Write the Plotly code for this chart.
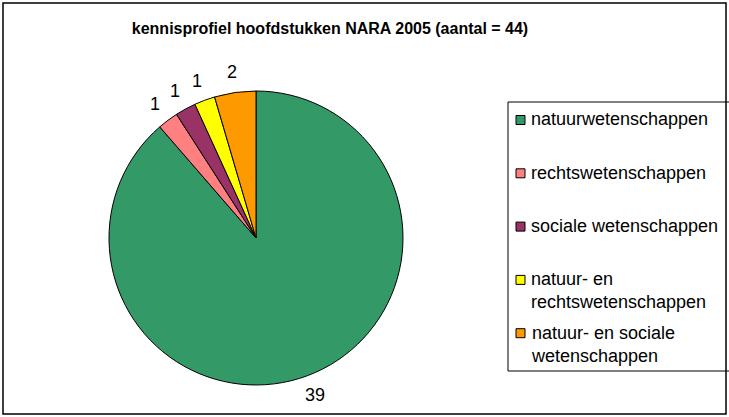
import math
import plotly.graph_objects as go

labels = ["natuurwetenschappen", "rechtswetenschappen", "sociale wetenschappen",
          "natuur- en<br>rechtswetenschappen", "natuur- en sociale<br>wetenschappen"]
values = [39, 1, 1, 1, 2]
colors = ["#339966", "#FF8080", "#993366", "#FFFF00", "#FF9900"]
title = "kennisprofiel hoofdstukken NARA 2005 (aantal = 44)"

W, H = 729, 417
font = "Liberation Sans, Arial, sans-serif"

# pie geometry (pixels)
CX, CY, R = 256, 238, 147
LABEL_GAP = 21
MIN_SEP = 7.0  # degrees between outside labels

fig = go.Figure(go.Pie(
    labels=labels, values=values, sort=False, direction="clockwise", rotation=0,
    marker=dict(colors=colors, line=dict(color="black", width=1)),
    textinfo="none", showlegend=False,
    domain=dict(x=[(CX - R) / W, (CX + R) / W], y=[1 - (CY + R) / H, 1 - (CY - R) / H]),
    hoverinfo="label+value",
))

# value labels outside the slices (angles derived from the values)
total = sum(values)
mids, cum = [], 0
for v in values:
    mids.append((cum + v / 2) / total * 360)
    cum += v
order = sorted(range(len(values)), key=lambda i: mids[i])
angles = mids[:]
prev = None
for i in order:
    if prev is not None and angles[i] - angles[prev] < MIN_SEP:
        angles[i] = angles[prev] + MIN_SEP
    prev = i

annotations = []
RL = R + LABEL_GAP
for v, a in zip(values, angles):
    t = math.radians(a)
    px = CX + RL * math.sin(t)
    py = CY - RL * math.cos(t)
    annotations.append(dict(x=px / W, y=1 - py / H, xref="paper", yref="paper",
                            text=str(v), showarrow=False, xanchor="center", yanchor="middle",
                            font=dict(family=font, size=18, color="black")))

# legend drawn as boxes + text
LEG_X0, LEG_Y0, LEG_Y1 = 508, 102, 371
ITEM_Y0, ITEM_STEP = 120, 53.3
LEG_FONT = 18
shapes = [
    dict(type="rect", xref="paper", yref="paper",
         x0=3 / W, x1=1 - 3 / W, y0=3 / H, y1=1 - 3 / H,
         line=dict(color="black", width=1.5)),
    dict(type="rect", xref="paper", yref="paper",
         x0=LEG_X0 / W, x1=(W + 20) / W, y0=1 - LEG_Y1 / H, y1=1 - LEG_Y0 / H,
         line=dict(color="black", width=1), fillcolor="white", layer="below"),
]
for k, (lab, col) in enumerate(zip(labels, colors)):
    yc = ITEM_Y0 + k * ITEM_STEP
    shapes.append(dict(type="rect", xref="paper", yref="paper",
                       x0=516 / W, x1=525 / W, y0=1 - (yc + 4.5) / H, y1=1 - (yc - 4.5) / H,
                       line=dict(color="black", width=1), fillcolor=col))
    annotations.append(dict(x=529 / W, y=1 - (yc - 0.65 * LEG_FONT - 1) / H,
                            xref="paper", yref="paper", text=lab, showarrow=False,
                            xanchor="left", yanchor="top", align="left",
                            font=dict(family=font, size=LEG_FONT, color="black")))

fig.update_layout(
    width=W, height=H, margin=dict(l=0, r=0, t=0, b=0),
    paper_bgcolor="white", plot_bgcolor="white",
    font=dict(family=font, size=13, color="black"),
    title=dict(text="<b>" + title + "</b>", x=330 / W, xanchor="center",
               y=1 - 28 / H, yanchor="middle", font=dict(size=16, family=font)),
    showlegend=False,
    shapes=shapes, annotations=annotations,
)

fig.write_html("out.html", config={"displayModeBar": False},
               post_script="document.body.style.margin='0';document.body.style.overflow='hidden';")
